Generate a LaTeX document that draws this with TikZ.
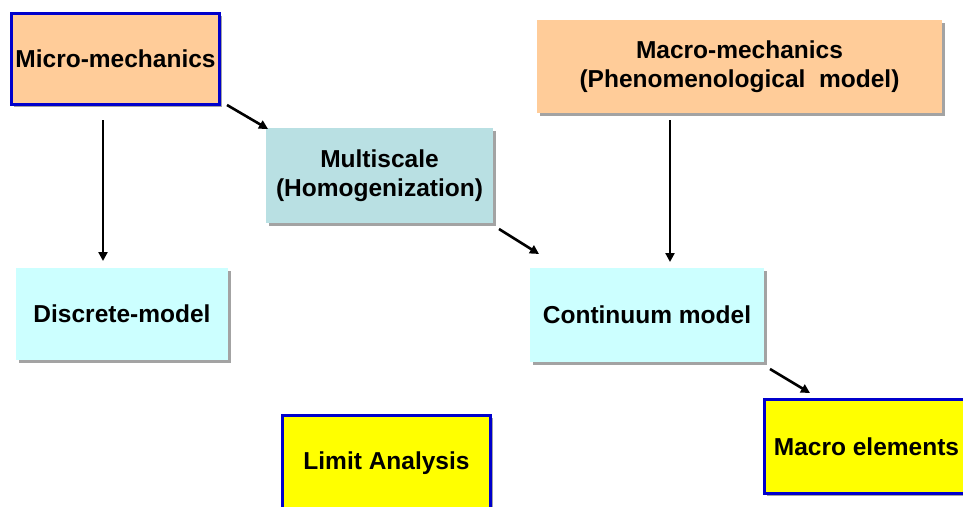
\documentclass[tikz,border=0pt]{standalone}
\usepackage{fontspec}
\setmainfont{Liberation Sans}
\usetikzlibrary{arrows.meta,calc,shadows}
\definecolor{peach}{HTML}{FFCC99}
\definecolor{teal1}{HTML}{B9E0E3}
\definecolor{cyan1}{HTML}{CCFFFF}
\definecolor{yel}{HTML}{FFFF00}
\definecolor{bord}{HTML}{0000CC}
\tikzset{
  box/.style={rectangle, outer sep=0pt, inner sep=1pt, align=center,
    font=\fontsize{24.5}{29.5}\selectfont\bfseries,
    drop shadow={shadow xshift=2.5pt, shadow yshift=-2.5pt, fill=black!45, opacity=0.8}},
  plainbox/.style={box, draw=none},
  bordbox/.style={box, draw=bord, line width=3pt},
  arr/.style={-{Triangle[width=9pt,length=9pt]}, line width=2.6pt, black}
}
\begin{document}
\begin{tikzpicture}[x=1pt,y=-1pt]
\useasboundingbox (0,0) rectangle (963,506);
\clip (0,0) rectangle (963,506);
\fill[white] (0,0) rectangle (963,506);
\node[bordbox, fill=peach, minimum width=208pt, minimum height=91pt] (micro) at (115.5,59) {Micro-mechanics};
\node[plainbox, fill=teal1, minimum width=227pt, minimum height=95pt] (multi) at (379.5,175.5) {Multiscale\\(Homogenization)};
\node[plainbox, fill=peach, minimum width=405pt, minimum height=93pt] (macro) at (739.5,66.5) {Macro-mechanics\\(Phenomenological\ \ model)};
\node[plainbox, fill=cyan1, minimum width=212pt, minimum height=92pt] (discrete) at (122,314) {Discrete-model};
\node[plainbox, fill=cyan1, minimum width=234pt, minimum height=94pt] (cont) at (647,315) {Continuum model};
\node[bordbox, fill=yel, minimum width=208pt, minimum height=96pt] (limit) at (386.5,463.5) {Limit Analysis};
\node[bordbox, fill=yel, minimum width=219pt, minimum height=94pt] (macroel) at (874,446.5) {\hspace*{-15pt}Macro elements};
\draw[arr] ($(micro.south)+(-12.5,15.5)$) -- ($(discrete.north)+(-19,-7)$);
\draw[arr] ($(micro.south east)+(7.5,0.5)$) -- ($(multi.north west)+(2,1)$);
\draw[arr] ($(multi.south east)+(6,6)$) -- ($(cont.north west)+(9,-14)$);
\draw[arr] ($(macro.south)+(-69.5,7)$) -- ($(cont.north)+(23,-6)$);
\draw[arr] ($(cont.south east)+(6,7)$) -- ($(macroel.north west)+(45.5,-6.5)$);
\end{tikzpicture}
\end{document}
